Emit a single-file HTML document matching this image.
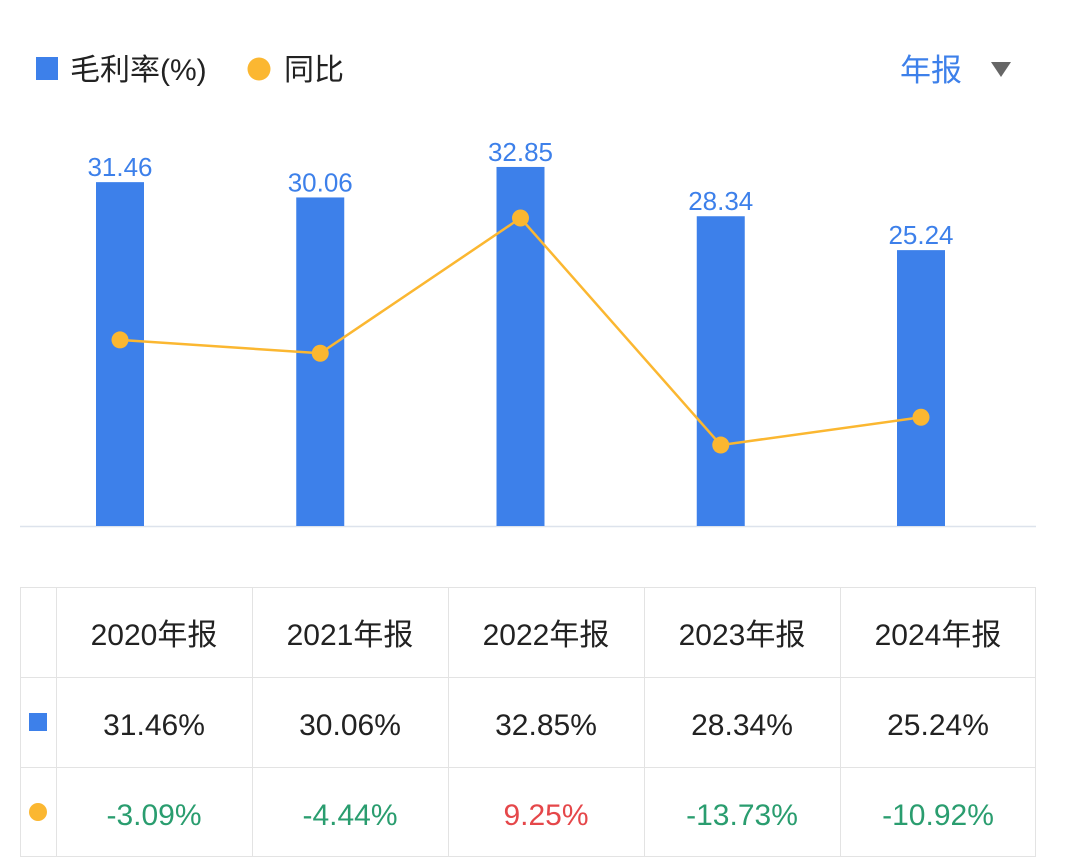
<!DOCTYPE html>
<html><head><meta charset="utf-8">
<style>
body{margin:0;width:1067px;height:868px;background:#fff;overflow:hidden;font-family:"Liberation Sans","Noto Sans CJK SC",sans-serif;}
svg{position:absolute;left:0;top:0}
</style></head>
<body>
<svg id="chart" width="1067" height="868">
  <g>
    <rect x="36" y="57" width="22" height="23" fill="#3d80ea"/>
    <text x="70" y="80" font-size="30" fill="#222">毛利率(%)</text>
    <circle cx="259" cy="69" r="11.5" fill="#fbb731"/>
    <text x="284" y="80" font-size="30" fill="#222">同比</text>
  </g>
  <g>
    <text x="900" y="81" font-size="31" fill="#3d80ea">年报</text>
    <polygon points="991,62 1011,62 1001,77" fill="#666"/>
  </g>
  <line x1="20" y1="526.5" x2="1036" y2="526.5" stroke="#dde3ec" stroke-width="1.5"/>
  <g id="bars"></g>
  <g id="line"></g>
  <g id="table"></g>
</svg>
<script>
const categories=["2020年报","2021年报","2022年报","2023年报","2024年报"];
const margin=[31.46,30.06,32.85,28.34,25.24];
const yoy=[-3.09,-4.44,9.25,-13.73,-10.92];
const NS="http://www.w3.org/2000/svg";
function mk(tag,attrs,parent){const e=document.createElementNS(NS,tag);for(const k in attrs)e.setAttribute(k,attrs[k]);parent.appendChild(e);return e;}
const xC=i=>120+i*200.25;
const yBar=v=>526-v*10.93;
const yLine=v=>309.4-v*9.88;
const bars=document.getElementById('bars');
margin.forEach((v,i)=>{
  const r=mk('rect',{x:xC(i)-24,y:yBar(v),width:48,height:526-yBar(v),fill:'#3d80ea'},bars);
  
  
  const t=mk('text',{x:xC(i),y:yBar(v)-6,'font-size':26,fill:'#3d80ea','text-anchor':'middle'},bars);
  t.textContent=v.toFixed(2);
  
  
});
const lg=document.getElementById('line');
const pl=mk('polyline',{points:yoy.map((v,i)=>xC(i)+','+yLine(v)).join(' '),fill:'none',stroke:'#fbb731','stroke-width':2.5},lg);


yoy.forEach((v,i)=>{
  const c=mk('circle',{cx:xC(i),cy:yLine(v),r:8.5,fill:'#fbb731'},lg);
  
  
});
const tb=document.getElementById('table');
const colX=[20,56,252,448,644,840,1036], rowY=[587,677,767,857];
const bd=mk('rect',{x:20.5,y:587.5,width:1015,height:269,fill:'none',stroke:'#e3e3e3','stroke-width':1},tb);


for(let k=1;k<6;k++){const l=mk('line',{x1:colX[k]+.5,y1:587,x2:colX[k]+.5,y2:857,stroke:'#e3e3e3'},tb);}
for(let k=1;k<3;k++){const l=mk('line',{x1:20,y1:rowY[k]+.5,x2:1036,y2:rowY[k]+.5,stroke:'#e3e3e3'},tb);}
const sq=mk('rect',{x:29,y:713,width:18,height:18,fill:'#3d80ea'},tb);


const cc=mk('circle',{cx:38,cy:812,r:9,fill:'#fbb731'},tb);


categories.forEach((c,i)=>{
  const cx=(colX[i+1]+colX[i+2])/2;
  const h=mk('text',{x:cx,y:645,'font-size':30,fill:'#222','text-anchor':'middle'},tb);
  h.textContent=c;
  
  
  const m=mk('text',{x:cx,y:735,'font-size':30,fill:'#222','text-anchor':'middle'},tb);
  m.textContent=margin[i].toFixed(2)+'%';
  
  
  const y=mk('text',{x:cx,y:825,'font-size':30,fill:yoy[i]<0?'#2a9d6f':'#e5474a','text-anchor':'middle'},tb);
  y.textContent=yoy[i].toFixed(2)+'%';
  
  
});
</script>
</body></html>
